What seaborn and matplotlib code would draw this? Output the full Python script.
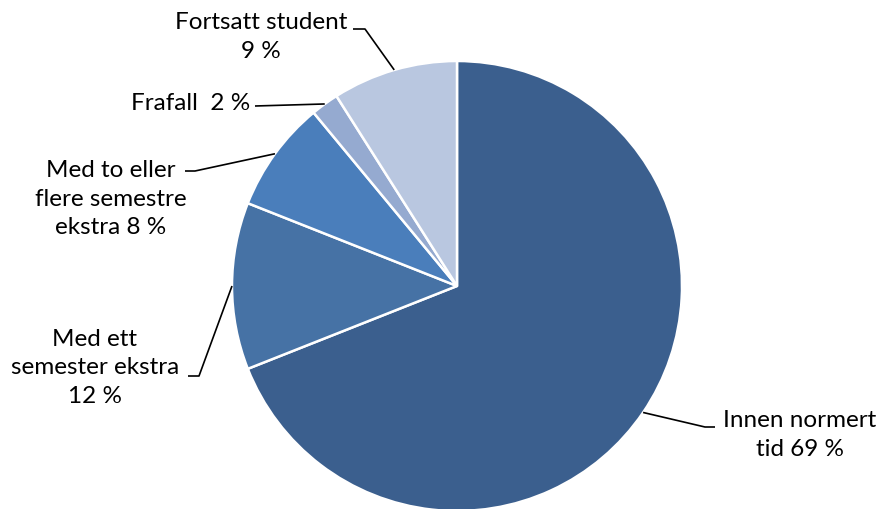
import numpy as np
import matplotlib.pyplot as plt
import seaborn as sns

# =============================================================================
# Data
# =============================================================================

categories = ["Innen normert\ntid", "Med ett\nsemester ekstra", "Med to eller\nflere semestre\nekstra",
              "Frafall", "Fortsatt student"]
values = [69, 12, 8, 2, 9]
separators = [" ", "\n", " ", "  ", "\n"]
colors = ["#3B5F8E", "#4672A5", "#4A7EBB", "#95AAD0", "#B9C7E0"]

# =============================================================================
# Layout (pixel coordinates, y measured from top)
# =============================================================================

W, H = 884, 510
center_px = (457, 287)
radius = 225

label_pos = [(800, 435), (95, 368), (111, 199), (191, 103), (261, 37)]
elbows = [[(705, 428), (715, 428)],
          [(199, 377), (188, 377)],
          [(195, 172), (185, 172)],
          [(255, 107)],
          [(365, 30), (353, 30)]]

sns.set_theme(style="white")
plt.rcParams["font.family"] = ["Lato", "DejaVu Sans"]

fig = plt.figure(figsize=(W / 100, H / 100), dpi=100)
ax = fig.add_axes([0, 0, 1, 1])

cx, cy = center_px[0], H - center_px[1]

wedges, _ = ax.pie(
    values,
    colors=colors,
    startangle=90,
    counterclock=False,
    center=(cx, cy),
    radius=radius,
    wedgeprops=dict(edgecolor="white", linewidth=1.8),
    frame=True,
)
ax.set_xlim(0, W)
ax.set_ylim(0, H)
ax.set_aspect("equal")
ax.axis("off")

# leader lines + labels
for w, name, sep, v, pos, elb in zip(wedges, categories, separators, values, label_pos, elbows):
    mid = np.deg2rad((w.theta1 + w.theta2) / 2)
    px, py = cx + radius * np.cos(mid), cy + radius * np.sin(mid)
    xs = [px] + [e[0] for e in elb]
    ys = [py] + [H - e[1] for e in elb]
    ax.plot(xs, ys, color="black", lw=1.2, solid_capstyle="butt")
    ax.text(pos[0], H - pos[1], f"{name}{sep}{v} %", ha="center", va="center",
            fontsize=17.5, color="black", linespacing=1.45)

plt.savefig("out.png", dpi=100)
